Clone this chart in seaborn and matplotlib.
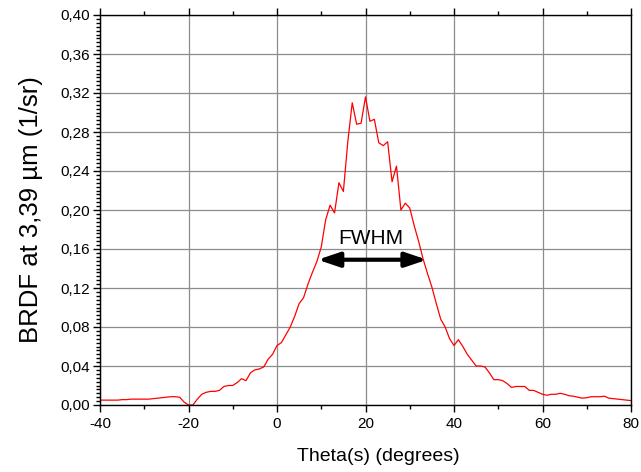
import matplotlib
matplotlib.use("Agg")
import matplotlib.pyplot as plt
import seaborn as sns
import pandas as pd
from matplotlib.ticker import MultipleLocator, FixedLocator
from matplotlib.patches import FancyArrowPatch

theta = list(range(-40, 81))
brdf = [
    0.005, 0.005, 0.005, 0.005, 0.005, 0.0055, 0.0055, 0.006, 0.006, 0.006,   # -40..-31
    0.006, 0.006, 0.0065, 0.007, 0.0075, 0.008, 0.0085, 0.0085, 0.008, 0.003,  # -30..-21
    0.000, 0.000, 0.006, 0.011, 0.013, 0.014, 0.014, 0.015, 0.019, 0.020,      # -20..-11
    0.020, 0.023, 0.027, 0.025, 0.033, 0.036, 0.037, 0.039, 0.047, 0.052,      # -10..-1
    0.061, 0.064, 0.072, 0.080, 0.091, 0.104, 0.110, 0.124, 0.136, 0.147,      # 0..9
    0.162, 0.190, 0.205, 0.197, 0.228, 0.219, 0.270, 0.310, 0.288, 0.289,      # 10..19
    0.316, 0.291, 0.293, 0.269, 0.266, 0.270, 0.229, 0.245, 0.200, 0.207,      # 20..29
    0.202, 0.184, 0.168, 0.150, 0.135, 0.121, 0.104, 0.088, 0.080, 0.068,      # 30..39
    0.061, 0.067, 0.060, 0.052, 0.046, 0.040, 0.040, 0.039, 0.033, 0.026,      # 40..49
    0.026, 0.025, 0.022, 0.018, 0.019, 0.019, 0.019, 0.015, 0.015, 0.013,      # 50..59
    0.011, 0.010, 0.011, 0.011, 0.012, 0.011, 0.0095, 0.009, 0.008, 0.007,     # 60..69
    0.0075, 0.0085, 0.0085, 0.0085, 0.009, 0.007, 0.0065, 0.006, 0.0055, 0.005, # 70..79
    0.0045,                                                                      # 80
]

x_ticks = [-40, -20, 0, 20, 40, 60, 80]
x_labels = ["-40", "-20", "0", "20", "40", "60", "80"]
y_ticks = [0.00, 0.04, 0.08, 0.12, 0.16, 0.20, 0.24, 0.28, 0.32, 0.36, 0.40]
y_labels = ["0,00", "0,04", "0,08", "0,12", "0,16", "0,20", "0,24", "0,28", "0,32", "0,36", "0,40"]

fwhm_left = 9.2
fwhm_right = 33.9
fwhm_level = 0.149
fwhm_text_x = 21.1
fwhm_text_y = 0.165

df = pd.DataFrame({"theta": theta, "brdf": brdf})

sns.set_theme(style="white")
plt.rcParams["font.family"] = ["Liberation Sans", "DejaVu Sans"]
plt.rcParams["axes.unicode_minus"] = False

fig = plt.figure(figsize=(6.41, 4.72), dpi=100)
ax = fig.add_axes([100 / 641, 1 - 405 / 472, 531 / 641, 390 / 472])

sns.lineplot(data=df, x="theta", y="brdf", ax=ax, color="red", linewidth=0.9)

ax.set_xlim(-40, 80)
ax.set_ylim(0, 0.40)
ax.xaxis.set_major_locator(FixedLocator(x_ticks))
ax.set_xticklabels(x_labels)
ax.xaxis.set_minor_locator(MultipleLocator(10))
ax.yaxis.set_major_locator(FixedLocator(y_ticks))
ax.set_yticklabels(y_labels)
ax.yaxis.set_minor_locator(MultipleLocator(0.004))

ax.grid(True, which="major", color="#8c8c8c", linewidth=0.9)
ax.set_axisbelow(True)

for s in ax.spines.values():
    s.set_visible(True)
    s.set_color("black")
    s.set_linewidth(1.0)

ax.tick_params(axis="both", which="major", direction="out", length=5, width=1,
               color="black", labelsize=11, labelcolor="black", pad=2)
ax.tick_params(axis="x", which="major", pad=4)
ax.tick_params(axis="both", which="minor", direction="out", length=3, width=1, color="black")
ax.tick_params(axis="x", which="both", top=True, bottom=True)
ax.tick_params(axis="y", which="both", left=True, right=False)

ax.set_xlabel("Theta(s) (degrees)", fontsize=14, color="black")
ax.xaxis.set_label_coords(0.525, -0.11, transform=ax.transAxes)
ax.xaxis.label.set_va("top")
ax.set_ylabel("BRDF at 3,39 µm (1/sr)", fontsize=18.5, color="black", labelpad=13)

arrow = FancyArrowPatch((fwhm_left, fwhm_level), (fwhm_right, fwhm_level),
                        arrowstyle="<|-|>,head_length=0.65,head_width=0.22",
                        mutation_scale=20, color="black", lw=3,
                        shrinkA=0, shrinkB=0)
ax.add_patch(arrow)
ax.text(fwhm_text_x, fwhm_text_y, "FWHM", ha="center", va="baseline",
        fontsize=15, color="black")

fig.savefig("out.png", dpi=100)
